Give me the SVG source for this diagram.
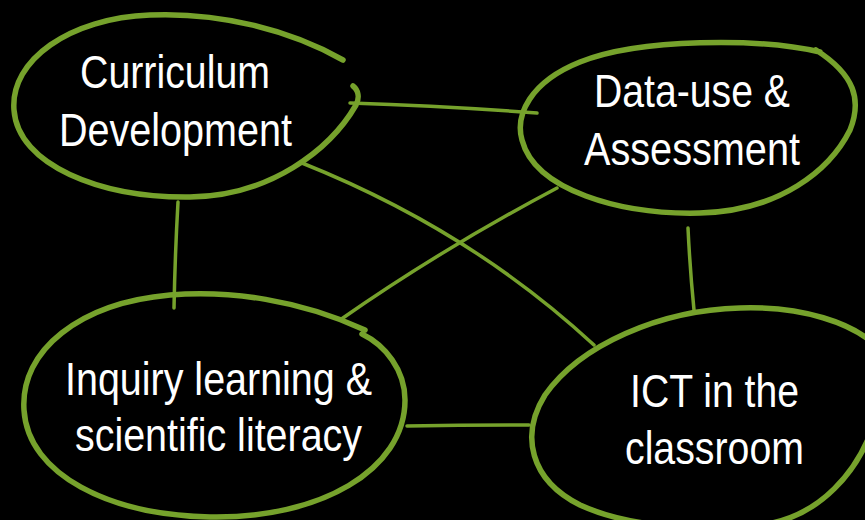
<svg xmlns="http://www.w3.org/2000/svg" width="865" height="520" viewBox="0 0 865 520">
<style>
.ring{fill:none;stroke:#76a22c;stroke-width:5.5;stroke-linecap:round;stroke-linejoin:round}
.edge{fill:none;stroke:#76a22c;stroke-width:3.5;stroke-linecap:round}
.lbl{fill:#ffffff;font-family:"Liberation Sans",Arial,sans-serif;font-size:46px;text-anchor:middle}
</style>
<rect x="0" y="0" width="865" height="520" fill="#000000"/>
<g id="connectors">
<path class="edge" d="M 350 103 Q 445 106 537 113"/>
<path class="edge" d="M 178 202 Q 175 255 174 308"/>
<path class="edge" d="M 302 163 Q 470 230 594 345"/>
<path class="edge" d="M 557 188 Q 440 250 340 320"/>
<path class="edge" d="M 688 228 Q 690 270 694 310"/>
<path class="edge" d="M 407 426 Q 470 425 529 425"/>
</g>
<g id="curriculum">
<path class="ring" d="M 343 60 C 290 30, 220 12, 150 15 C 70 18, 10 60, 14 110 C 18 165, 100 198, 190 197 C 270 196, 330 150, 356 105 C 360 97, 358 90, 353 86"/>
<text class="lbl" x="175" y="88" textLength="190" lengthAdjust="spacingAndGlyphs">Curriculum</text>
<text class="lbl" x="175.5" y="146" textLength="233" lengthAdjust="spacingAndGlyphs">Development</text>
</g>
<g id="datause">
<path class="ring" d="M 820 52 C 760 38, 640 38, 580 62 C 530 82, 515 115, 522 140 C 535 190, 620 215, 700 213 C 780 211, 830 170, 850 130 C 862 100, 855 75, 816 50"/>
<text class="lbl" x="692" y="107" textLength="196" lengthAdjust="spacingAndGlyphs">Data-use &amp;</text>
<text class="lbl" x="692" y="165" textLength="216" lengthAdjust="spacingAndGlyphs">Assessment</text>
</g>
<g id="inquiry">
<path class="ring" d="M 365 330 C 300 300, 230 290, 170 295 C 80 303, 20 350, 24 410 C 28 475, 110 515, 210 517 C 320 519, 405 470, 405 400 C 405 370, 385 345, 362 334"/>
<text class="lbl" x="218.5" y="395" textLength="307" lengthAdjust="spacingAndGlyphs">Inquiry learning &amp;</text>
<text class="lbl" x="218.5" y="451" textLength="287" lengthAdjust="spacingAndGlyphs">scientific literacy</text>
</g>
<g id="ict">
<path class="ring" d="M 880 350 C 855 322, 800 306, 740 308 C 660 310, 580 345, 545 395 C 520 435, 530 480, 580 505 C 630 528, 700 530, 760 525 C 820 518, 860 470, 875 420"/>
<text class="lbl" x="714.5" y="407" textLength="169" lengthAdjust="spacingAndGlyphs">ICT in the</text>
<text class="lbl" x="714.5" y="464" textLength="179" lengthAdjust="spacingAndGlyphs">classroom</text>
</g>
</svg>
